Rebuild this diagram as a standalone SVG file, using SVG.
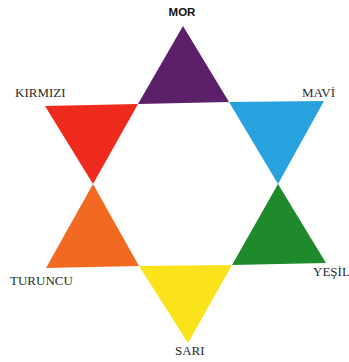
<svg xmlns="http://www.w3.org/2000/svg" width="349" height="362" viewBox="0 0 349 362">
<style>
.lbl{font-family:"Liberation Serif","Times New Roman",serif;font-size:13px;fill:#2a2a2a}
.top{font-family:"Liberation Sans",Arial,sans-serif;font-size:11.5px;font-weight:bold;fill:#111}
</style>
<rect width="349" height="362" fill="#fff"/>
<g id="mor"><polygon points="183,26 138,104 229,102" fill="#5c1f6a"/><text class="top" x="182" y="16" text-anchor="middle">MOR</text></g>
<g id="kirmizi"><polygon points="45,106 138,104 93,184" fill="#ee2a1c"/><text class="lbl" x="15" y="97">KIRMIZI</text></g>
<g id="mavi"><polygon points="229,102 324,101 278,184" fill="#27a2df"/><text class="lbl" x="302" y="97">MAVİ</text></g>
<g id="turuncu"><polygon points="93,184 46,268 139,266" fill="#f26a22"/><text class="lbl" x="10" y="285">TURUNCU</text></g>
<g id="yesil"><polygon points="278,184 232,265 326,263" fill="#1e8a2b"/><text class="lbl" x="313" y="276">YEŞİL</text></g>
<g id="sari"><polygon points="139,266 232,265 188,343" fill="#fae31a"/><text class="lbl" x="175" y="355">SARI</text></g>
<g id="connectors"/>
</svg>
